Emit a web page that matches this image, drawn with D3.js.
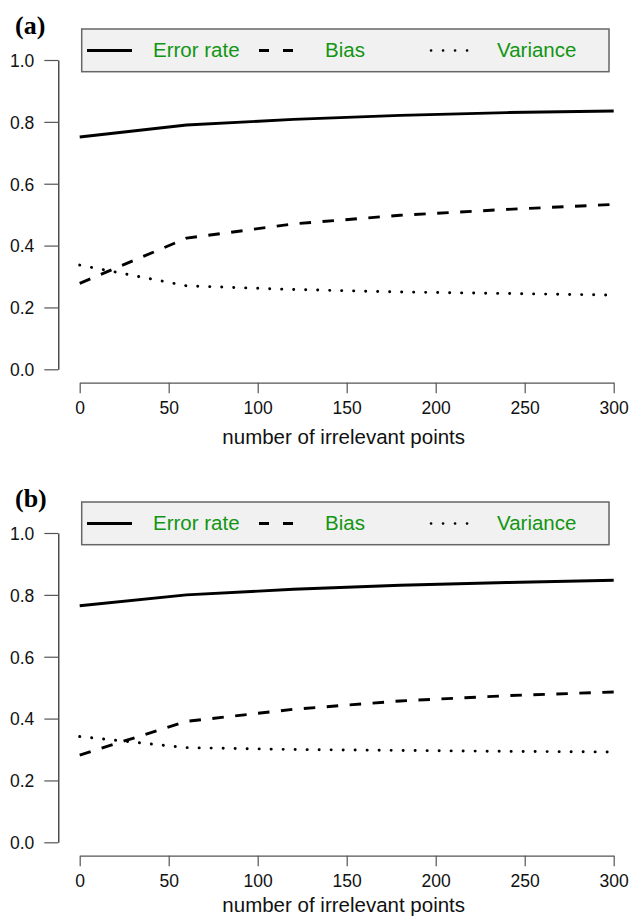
<!DOCTYPE html>
<html>
<head>
<meta charset="utf-8">
<script src="https://cdn.jsdelivr.net/npm/d3@7"></script>
<style>
  html, body { margin: 0; padding: 0; background: #fff; }
  svg { display: block; }
</style>
</head>
<body>
<svg id="chart" width="630" height="921"></svg>
<script>
const xValues = [0, 60, 120, 180, 240, 300];
const errorA = [0.751, 0.790, 0.808, 0.821, 0.830, 0.835];
const biasA = [0.278, 0.424, 0.470, 0.498, 0.517, 0.533];
const varianceA = [0.337, 0.270, 0.258, 0.250, 0.245, 0.240];
const errorB = [0.765, 0.800, 0.818, 0.831, 0.840, 0.847];
const biasB = [0.282, 0.391, 0.430, 0.457, 0.474, 0.486];
const varianceB = [0.342, 0.306, 0.300, 0.297, 0.294, 0.292];
const xTicks = [0, 50, 100, 150, 200, 250, 300];
const yTicks = [0.0, 0.2, 0.4, 0.6, 0.8, 1.0];
const seriesNames = ["Error rate", "Bias", "Variance"];
const panelLabels = ["(a)", "(b)"];
const xTitle = "number of irrelevant points";

const svg = d3.select("#chart");
const sans = "'Liberation Sans', Arial, Helvetica, sans-serif";
const serif = "'Liberation Serif', 'Times New Roman', serif";
const green = "#129512";
const dashes = [null, "11.5,11.5", "0.1,11.9"];
const caps = ["butt", "butt", "round"];

function drawPanel(top, label, series, titleY) {
  const g = svg.append("g").attr("transform", `translate(0,${top})`);
  const x = d3.scaleLinear().domain([0, 300]).range([79.7, 613.7]);
  const y = d3.scaleLinear().domain([0, 1]).range([369.3, 60]);

  // y axis
  const ya = g.append("g").attr("transform", "translate(58.3,0)")
    .call(d3.axisLeft(y).tickValues(yTicks).tickFormat(d3.format(".1f"))
      .tickSize(14).tickSizeOuter(0).tickPadding(10));
  ya.select(".domain").attr("stroke", "#222").attr("stroke-width", 1.2);
  ya.selectAll(".tick line").attr("stroke", "#555").attr("stroke-width", 1.2);
  ya.selectAll(".tick text").attr("font-family", sans).attr("font-size", 17.5)
    .attr("fill", "#111").attr("dy", "0.36em");

  // x axis
  const xa = g.append("g").attr("transform", "translate(0,382.7)")
    .call(d3.axisBottom(x).tickValues(xTicks).tickFormat(d3.format("d"))
      .tickSize(10.5).tickSizeOuter(0).tickPadding(8));
  xa.select(".domain").attr("stroke", "#555").attr("stroke-width", 1.2);
  xa.selectAll(".tick line").attr("stroke", "#555").attr("stroke-width", 1.2);
  xa.selectAll(".tick text").attr("font-family", sans).attr("font-size", 17.5)
    .attr("fill", "#111").attr("dy", "0.71em");

  // axis title
  g.append("text").attr("x", (x(0) + x(300)) / 2 - 3).attr("y", titleY)
    .attr("text-anchor", "middle").attr("font-family", sans).attr("font-size", 20.5)
    .attr("fill", "#111").text(xTitle);

  // lines
  const line = d3.line().x((d, i) => x(xValues[i])).y(d => y(d));
  series.forEach((s, k) => {
    g.append("path").datum(s).attr("d", line).attr("fill", "none")
      .attr("stroke", "#000").attr("stroke-width", 2.9)
      .attr("stroke-dasharray", dashes[k]).attr("stroke-linecap", caps[k])
      .attr("stroke-linejoin", "round");
  });

  // panel label
  g.append("text").attr("x", 15).attr("y", 33.5).attr("font-family", serif)
    .attr("font-weight", "bold").attr("font-size", 26).attr("fill", "#000").text(label);

  // legend
  g.append("rect").attr("x", 81.7).attr("y", 29).attr("width", 609 - 81.7).attr("height", 42.7)
    .attr("fill", "#f1f1f1").attr("stroke", "#666").attr("stroke-width", 1.5);
  seriesNames.forEach((name, k) => {
    const x0 = 87 + k * 172;
    g.append("line").attr("x1", x0).attr("x2", x0 + 45).attr("y1", 50.5).attr("y2", 50.5)
      .attr("stroke", "#000").attr("stroke-width", k === 2 ? 2.6 : 2.8)
      .attr("stroke-dasharray", k === 1 ? "10,14" : dashes[k]).attr("stroke-linecap", caps[k]);
    g.append("text").attr("x", x0 + 66).attr("y", 57.3).attr("font-family", sans)
      .attr("font-size", 20.5).attr("fill", green).text(name);
  });
}

drawPanel(0, panelLabels[0], [errorA, biasA, varianceA], 443.5);
drawPanel(473, panelLabels[1], [errorB, biasB, varianceB], 438.5);
</script>
</body>
</html>
